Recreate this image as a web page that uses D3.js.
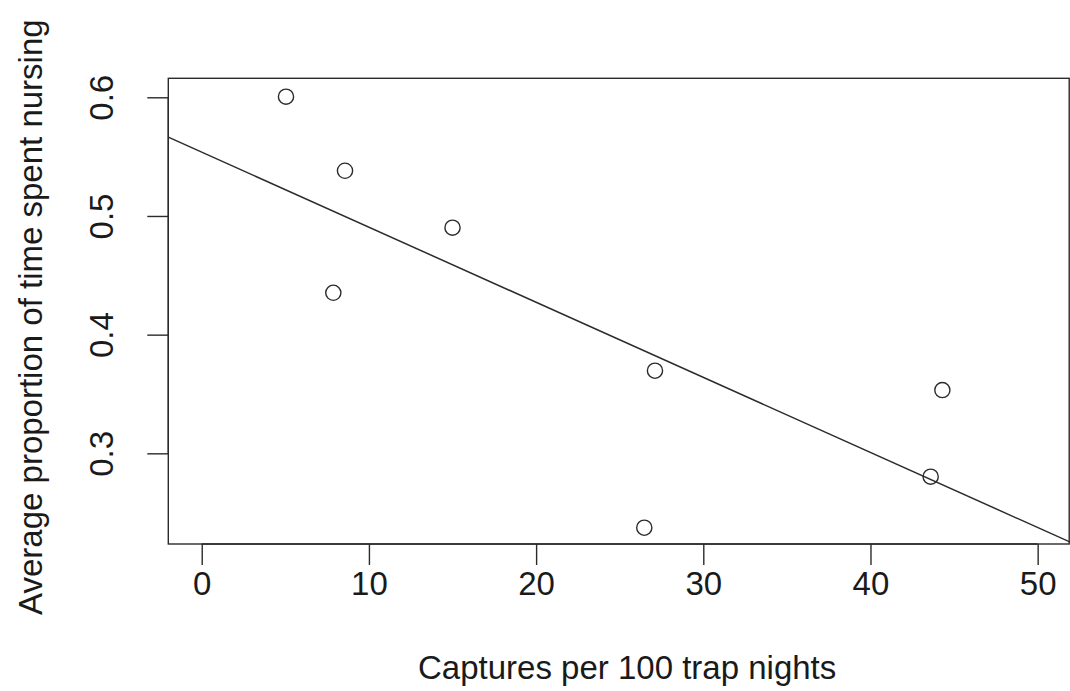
<!DOCTYPE html>
<html>
<head>
<meta charset="utf-8">
<script src="https://cdn.jsdelivr.net/npm/d3@7"></script>
<style>
  html, body { margin: 0; padding: 0; background: #fff; }
  svg { display: block; }
  text { font-family: "Liberation Sans", Arial, Helvetica, sans-serif; fill: #1a1a1a; }
</style>
</head>
<body>
<svg id="chart" width="1070" height="691"></svg>
<script>
// Captures per 100 trap nights at each site
const captures = [5.04, 8.57, 7.87, 15.0, 27.11, 26.47, 43.6, 44.3];
// Average proportion of time spent nursing at each site
const nursing = [0.6005, 0.5381, 0.4353, 0.4901, 0.3696, 0.2373, 0.2803, 0.3533];

const xTicks = [0, 10, 20, 30, 40, 50];
const yTicks = [0.3, 0.4, 0.5, 0.6];
const xLabel = "Captures per 100 trap nights";
const yLabel = "Average proportion of time spent nursing";

const W = 1070, H = 691;
const plot = { left: 168.3, top: 78.3, right: 1071.1, bottom: 544 };
const fontSize = "33px";

const svg = d3.select("#chart");
const ink = "#2b2b2b";

// x: 0..50 with 4% padding on each side; y: data range padded by 4%
const x = d3.scaleLinear().domain([-2, 52]).range([plot.left, plot.right]);
const y = d3.scaleLinear().domain([0.2236, 0.616]).range([plot.bottom, plot.top]);

// clip region for the plotting area
svg.append("defs").append("clipPath").attr("id", "plotclip")
  .append("rect")
  .attr("x", plot.left).attr("y", plot.top)
  .attr("width", plot.right - plot.left).attr("height", plot.bottom - plot.top);

// least-squares fit of nursing on captures
const mx = d3.mean(captures), my = d3.mean(nursing);
let sxy = 0, sxx = 0;
captures.forEach((c, i) => { sxy += (c - mx) * (nursing[i] - my); sxx += (c - mx) * (c - mx); });
const slope = sxy / sxx;
const intercept = my - slope * mx;

// fitted line across the full plotting region
const xd = x.domain();
svg.append("line")
  .attr("clip-path", "url(#plotclip)")
  .attr("x1", x(xd[0])).attr("y1", y(intercept + slope * xd[0]))
  .attr("x2", x(xd[1])).attr("y2", y(intercept + slope * xd[1]))
  .attr("stroke", ink).attr("stroke-width", 1.5);

// open circles for each site
svg.append("g").selectAll("circle")
  .data(captures.map((c, i) => ({ c, n: nursing[i] })))
  .join("circle")
  .attr("cx", d => x(d.c))
  .attr("cy", d => y(d.n))
  .attr("r", 7.6)
  .attr("fill", "none")
  .attr("stroke", ink)
  .attr("stroke-width", 1.4);

// box around the plotting region
svg.append("rect")
  .attr("x", plot.left).attr("y", plot.top)
  .attr("width", Math.min(plot.right, W - 0.8) - plot.left)
  .attr("height", plot.bottom - plot.top)
  .attr("fill", "none").attr("stroke", ink).attr("stroke-width", 1.4);

// bottom axis
const xAxis = d3.axisBottom(x).tickValues(xTicks).tickSize(21).tickPadding(0).tickFormat(d3.format("d"));
const gx = svg.append("g").attr("transform", `translate(0,${plot.bottom})`).call(xAxis);
gx.select(".domain").remove();
gx.append("line")
  .attr("x1", x(xTicks[0])).attr("x2", x(xTicks[xTicks.length - 1]))
  .attr("stroke", ink).attr("stroke-width", 1.4);
gx.selectAll(".tick line").attr("stroke", ink).attr("stroke-width", 1.4);
gx.selectAll(".tick text")
  .attr("y", 51).attr("dy", null)
  .style("font-size", fontSize)
  .style("font-family", "'Liberation Sans', Arial, Helvetica, sans-serif")
  .attr("fill", "#1a1a1a");

// left axis
const yAxis = d3.axisLeft(y).tickValues(yTicks).tickSize(21).tickFormat(d3.format(".1f"));
const gy = svg.append("g").attr("transform", `translate(${plot.left},0)`).call(yAxis);
gy.select(".domain").remove();
gy.append("line")
  .attr("y1", y(yTicks[0])).attr("y2", y(yTicks[yTicks.length - 1]))
  .attr("stroke", ink).attr("stroke-width", 1.4);
gy.selectAll(".tick line").attr("stroke", ink).attr("stroke-width", 1.4);
gy.selectAll(".tick text")
  .attr("x", null).attr("dy", null)
  .attr("transform", "translate(-55,0) rotate(-90)")
  .attr("text-anchor", "middle")
  .style("font-size", fontSize)
  .style("font-family", "'Liberation Sans', Arial, Helvetica, sans-serif")
  .attr("fill", "#1a1a1a");

// axis titles
svg.append("text")
  .attr("x", (plot.left + Math.min(plot.right, W)) / 2 + 8)
  .attr("y", 679)
  .attr("text-anchor", "middle")
  .style("font-size", fontSize)
  .text(xLabel);

svg.append("text")
  .attr("transform", `translate(42,${(plot.top + plot.bottom) / 2 + 6}) rotate(-90)`)
  .attr("text-anchor", "middle")
  .style("font-size", fontSize)
  .text(yLabel);
</script>
</body>
</html>
